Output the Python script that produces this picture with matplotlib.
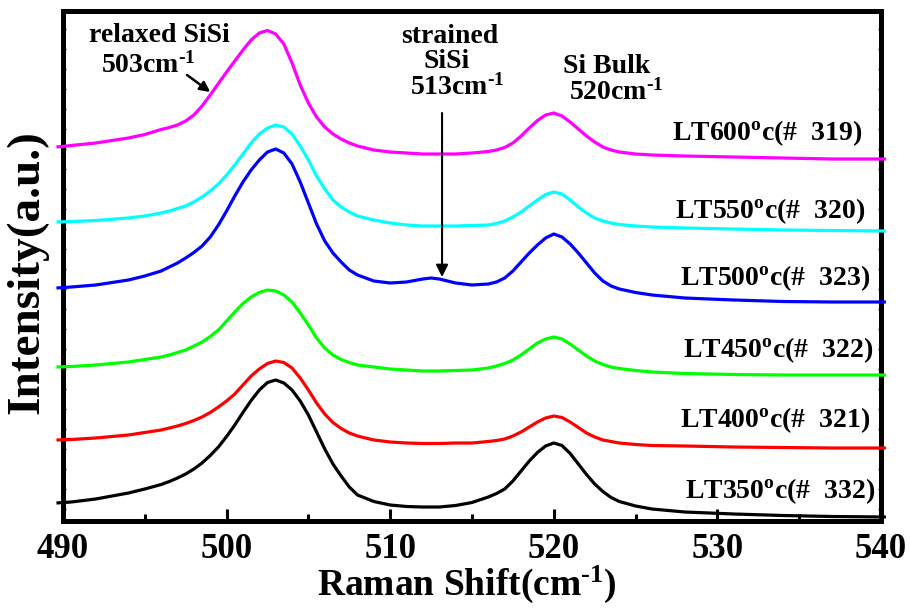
import matplotlib
matplotlib.use('Agg')
import matplotlib.pyplot as plt
import numpy as np

plt.rcParams['font.family'] = ['Liberation Serif', 'DejaVu Serif']
plt.rcParams['font.weight'] = 'bold'
plt.rcParams['mathtext.fontset'] = 'custom'
plt.rcParams['mathtext.rm'] = 'Liberation Serif:bold'
plt.rcParams['mathtext.bf'] = 'Liberation Serif:bold'
plt.rcParams['mathtext.it'] = 'Liberation Serif:bold:italic'
plt.rcParams['mathtext.default'] = 'rm'

# Raman shift (cm^-1)
raman_shift = [489.6, 490.5, 492, 494, 495, 496, 496.5, 497, 497.5, 498, 498.5, 499, 499.5, 500,
               500.5, 501, 501.5, 502, 502.5, 503, 503.5, 504, 504.5, 505, 505.5, 506, 506.5, 507,
               507.5, 508, 509, 510, 511, 512, 512.5, 513, 514, 515, 516, 516.5, 517, 517.5, 518,
               518.5, 519, 519.5, 520, 520.5, 521, 521.5, 522, 522.5, 523, 523.5, 524, 525, 526,
               528, 531, 534, 537, 540.3]

# Intensities (a.u., stacked with offsets as in the figure)
lt600 = [374, 375.5, 378, 383, 386.5, 391.5, 393.5, 396, 400, 406, 415, 426, 437.5, 449, 460,
         471, 481, 488, 490.5, 487, 477, 458, 436, 418, 404, 394, 387, 382, 378, 375,
         371, 369, 368, 367, 367, 367, 367, 368, 369.5, 371, 373.5, 378, 385, 393, 400.5,
         406, 408, 405, 399, 392, 385, 379, 374, 371, 369, 367, 366, 365, 364, 363,
         362, 362]
lt550 = [299, 299.5, 300.5, 303, 305, 308, 310, 312.5, 315, 319, 324, 330, 337, 346, 356,
         367, 378, 387, 393, 396, 394, 387, 375, 361, 345, 332, 321, 314, 309, 305,
         301, 298, 296, 295, 295, 295, 295, 295.5, 296, 297.5, 300, 304, 309, 315, 321,
         326.5, 329, 327, 321, 314, 308, 303, 300, 298, 296.5, 295, 294, 293, 292, 291,
         290.5, 290]
lt500 = [233, 234, 236, 241, 245, 250, 254, 258, 263, 268.5, 275, 284, 296, 310, 325,
         339, 351, 361, 369, 372, 368, 357, 339, 318, 297, 280, 268, 259, 251, 246,
         240, 238, 239, 242, 243, 242, 238, 236, 237, 239, 243, 250, 259, 268, 276,
         283, 287, 284, 277, 268, 258, 248, 240, 235, 232, 228.5, 226, 223, 221, 219.5,
         219, 219]
lt450 = [154, 154.5, 156, 159, 161.5, 164, 166, 168.5, 171, 175, 179, 184.5, 191, 200, 209,
         217.5, 224, 228.5, 231, 230, 226, 219, 208, 196, 183, 173, 166, 161.5, 158.5, 156,
         154, 152, 151, 150, 150, 150, 150.5, 151, 153, 155, 157.5, 161, 166, 172, 178,
         182, 184, 182, 177, 171, 165, 160, 156.5, 154, 152.5, 150.5, 149, 147.5, 146.5, 146,
         146, 146]
lt400 = [81, 81.5, 83, 86, 88.5, 91, 93, 95, 97.5, 100.5, 104, 108.5, 114, 120, 127,
         136, 145, 152, 157.5, 160, 158.5, 153, 143, 131, 118, 107, 98.5, 92.5, 88, 85,
         81, 79, 78, 77.5, 77.5, 77.5, 78, 78, 79.5, 80.5, 82, 85, 89, 94, 99,
         103, 105, 103.5, 99, 93.5, 88, 84, 81, 79.5, 78, 76.5, 75.5, 75, 74, 73.5,
         73, 73]
lt350 = [18, 19, 22, 28, 32, 36.5, 39.5, 43, 47, 52, 58, 65.5, 74, 84.5, 96,
         108.5, 120.5, 131, 138.5, 141, 138, 131, 120, 106, 89, 72, 57, 45, 34, 26,
         19.5, 16, 14.5, 14, 14, 14, 15.5, 18.5, 24, 27.5, 32, 40, 50, 60, 68.5,
         75, 78, 75.5, 67.5, 57, 46.5, 37, 29.5, 23.5, 19.5, 15, 12, 9, 7, 5.5,
         4.5, 4]

series = [lt600, lt550, lt500, lt450, lt400, lt350]
colors = ['#FF00FF', '#00FFFF', '#0000FF', '#00FF00', '#FF0000', '#000000']
labels = ['LT600$^{\\text{o}}$c(#  319)', 'LT550$^{\\text{o}}$c(#  320)', 'LT500$^{\\text{o}}$c(#  323)',
          'LT450$^{\\text{o}}$c(#  322)', 'LT400$^{\\text{o}}$c(#  321)', 'LT350$^{\\text{o}}$c(#  332)']
label_x = [538.84, 539.02, 539.33, 539.51, 539.33, 539.63]
label_y = [381, 303, 236, 164, 94, 23]

fig = plt.figure(figsize=(9.1, 6.12), dpi=100)
ax = fig.add_axes([63/910, 1-521/612, 818/910, 510/612])

for ys, c in zip(series, colors):
    ax.plot(raman_shift, ys, color=c, lw=2.3, clip_on=False, solid_capstyle='butt',
            solid_joinstyle='round', zorder=3)

for lab, lx, ly in zip(labels, label_x, label_y):
    ax.text(lx, ly, lab, ha='right', va='baseline', fontsize=20, fontweight='bold')

ax.set_xlim(490, 540)
ax.set_ylim(0, 510)
ax.set_xticks(np.arange(490, 541, 10))
ax.set_xticks(np.arange(495, 540, 10), minor=True)
ax.set_yticks(np.arange(12, 510, 20))
ax.tick_params(axis='x', which='major', direction='in', length=9, width=2.2, labelsize=25, pad=9,
               top=False)
ax.tick_params(axis='x', which='minor', direction='in', length=5, width=2.2, top=False)
ax.tick_params(axis='y', which='both', direction='in', length=2.5, width=1, left=True, right=True,
               labelleft=False)
for s in ax.spines.values():
    s.set_linewidth(3.6)

ax.set_xlabel('Raman Shift(cm$^{\\text{-1}}$)', fontsize=27, fontweight='bold', va='center')
ax.xaxis.set_label_coords(0.494, -0.125)
ax.set_ylabel('Intensity(a.u.)', fontsize=34, fontweight='bold', va='center')
ax.yaxis.set_label_coords(-0.044, 0.488)

# annotations
ax.text(495.87, 479, 'relaxed SiSi', ha='center', va='baseline', fontsize=20)
ax.text(495.2, 448, '503cm$^{\\text{-1}}$', ha='center', va='baseline', fontsize=20)
ax.annotate('', xy=(499.0, 429), xytext=(497.58, 446),
            arrowprops=dict(arrowstyle='-|>', lw=1.8, color='k', mutation_scale=15,
                            shrinkA=0, shrinkB=0))
ax.text(513.65, 478, 'strained', ha='center', va='baseline', fontsize=20)
ax.text(513.47, 453, 'SiSi', ha='center', va='baseline', fontsize=20)
ax.text(514.08, 426, '513cm$^{\\text{-1}}$', ha='center', va='baseline', fontsize=20)
ax.annotate('', xy=(513.17, 244), xytext=(513.17, 408),
            arrowprops=dict(arrowstyle='-|>', lw=1.5, color='k', mutation_scale=18,
                            shrinkA=0, shrinkB=0))
ax.text(523.25, 448, 'Si Bulk', ha='center', va='baseline', fontsize=20)
ax.text(523.8, 421, '520cm$^{\\text{-1}}$', ha='center', va='baseline', fontsize=20)

fig.savefig('out.png', dpi=100)
